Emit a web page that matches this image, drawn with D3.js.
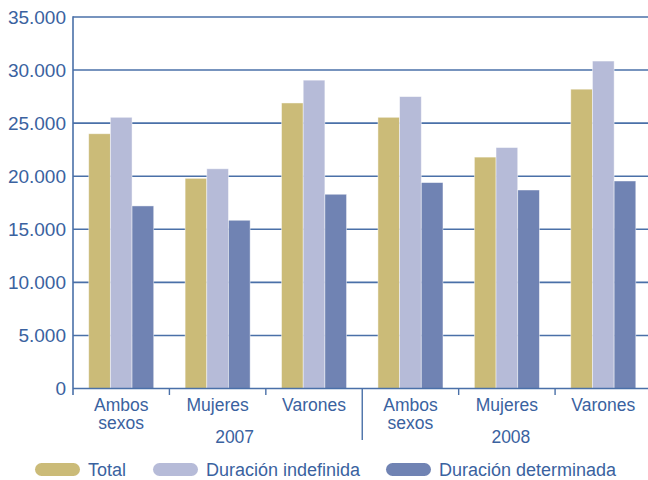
<!DOCTYPE html>
<html>
<head>
<meta charset="utf-8">
<script src="https://cdn.jsdelivr.net/npm/d3@7"></script>
<style>
  html, body { margin: 0; padding: 0; background: #fff; }
  svg { display: block; font-family: "Liberation Sans", Arial, Helvetica, sans-serif; }
</style>
</head>
<body>
<svg id="chart" width="648" height="480"></svg>
<script>
// Contract counts by year and sex
const years = ["2007", "2008"];
const sexes = ["Ambos sexos", "Mujeres", "Varones"];
const seriesNames = ["Total", "Duración indefinida", "Duración determinada"];
const totalValues       = [24000, 19800, 26900, 25550, 21800, 28200];
const indefinidaValues  = [25550, 20700, 29050, 27500, 22700, 30850];
const determinadaValues = [17200, 15850, 18300, 19400, 18700, 19550];
const yTicks = [0, 5000, 10000, 15000, 20000, 25000, 30000, 35000];

const colors = ["#cbbb78", "#b6bbd8", "#7083b3"];
const ink = "#3a62a0";
const lineColor = "#4a70a8";

// Build the rows: one per year/sex combination
const rows = [];
years.forEach((yr, yi) => {
  sexes.forEach((sx, si) => {
    const i = yi * sexes.length + si;
    rows.push({
      key: yr + "|" + sx, year: yr, sex: sx,
      values: [totalValues[i], indefinidaValues[i], determinadaValues[i]]
    });
  });
});

const svg = d3.select("#chart");
const plotLeft = 73, plotRight = 651.5, plotTop = 17, plotBottom = 388.5;

const y = d3.scaleLinear().domain([0, 35000]).range([plotBottom, plotTop]);
const x0 = d3.scaleBand().domain(rows.map(r => r.key)).range([plotLeft, plotRight]);
const groupPad = 15.7;
const x1 = d3.scaleBand().domain(seriesNames)
  .range([groupPad, x0.bandwidth() - groupPad]);

const locale = d3.formatLocale({ decimal: ",", thousands: ".", grouping: [3], currency: ["", " €"] });
const fmt = locale.format(",");

// Horizontal gridlines
svg.append("g")
  .selectAll("line")
  .data(yTicks.filter(v => v > 0))
  .join("line")
  .attr("x1", plotLeft).attr("x2", plotRight)
  .attr("y1", d => y(d)).attr("y2", d => y(d))
  .attr("stroke", lineColor).attr("stroke-width", 1.6);

// Bars
const groups = svg.append("g")
  .selectAll("g")
  .data(rows)
  .join("g")
  .attr("transform", d => `translate(${x0(d.key)},0)`);

groups.selectAll("rect")
  .data(d => d.values.map((v, k) => ({ name: seriesNames[k], value: v, k })))
  .join("rect")
  .attr("x", d => x1(d.name))
  .attr("width", x1.bandwidth())
  .attr("y", d => y(d.value))
  .attr("height", d => y(0) - y(d.value))
  .attr("fill", d => colors[d.k])
  .attr("stroke", "#ffffff")
  .attr("stroke-opacity", 0.55)
  .attr("stroke-width", 0.8);

// Y axis
const yAxis = d3.axisLeft(y).tickValues(yTicks).tickFormat(fmt).tickSize(0).tickPadding(7);
const gy = svg.append("g").attr("transform", `translate(${plotLeft},0)`).call(yAxis);
gy.select(".domain").remove();
gy.selectAll("text")
  .attr("fill", ink)
  .attr("font-size", 19)
  .attr("font-family", "Liberation Sans, Arial, sans-serif");
svg.append("line")
  .attr("x1", plotLeft).attr("x2", plotLeft)
  .attr("y1", plotTop - 0.8).attr("y2", plotBottom + 6.5)
  .attr("stroke", lineColor).attr("stroke-width", 1.6);

// X axis baseline
svg.append("line")
  .attr("x1", plotLeft).attr("x2", plotRight)
  .attr("y1", plotBottom).attr("y2", plotBottom)
  .attr("stroke", lineColor).attr("stroke-width", 1.6);

// Category separators; the year boundary runs longer
const boundaries = rows.slice(1).map(r => r.key);
svg.append("g")
  .selectAll("line")
  .data(boundaries)
  .join("line")
  .attr("x1", d => x0(d)).attr("x2", d => x0(d))
  .attr("y1", plotBottom)
  .attr("y2", d => d === years[1] + "|" + sexes[0] ? 440 : 395)
  .attr("stroke", lineColor).attr("stroke-width", 1.4);

// Category labels, one text element per line
const catLines = { "Ambos sexos": ["Ambos", "sexos"], "Mujeres": ["Mujeres"], "Varones": ["Varones"] };
const lineItems = [];
rows.forEach(r => {
  catLines[r.sex].forEach((t, li) => {
    lineItems.push({ t, li, cx: x0(r.key) + x0.bandwidth() / 2 });
  });
});
svg.append("g")
  .selectAll("text")
  .data(lineItems)
  .join("text")
  .attr("x", d => d.cx)
  .attr("y", d => 411 + d.li * 17.5)
  .attr("text-anchor", "middle")
  .attr("fill", ink)
  .attr("font-size", 17.5)
  .text(d => d.t);

// Year labels under each group
const yearShift = [17, 4];
svg.append("g")
  .selectAll("text")
  .data(years)
  .join("text")
  .attr("x", (d, i) => x0(d + "|" + sexes[1]) + x0.bandwidth() / 2 + yearShift[i])
  .attr("y", 443)
  .attr("text-anchor", "middle")
  .attr("fill", ink)
  .attr("font-size", 17.5)
  .text(d => d);

// Legend
const legendX = [35, 153, 386];
const leg = svg.append("g")
  .selectAll("g")
  .data(seriesNames)
  .join("g")
  .attr("transform", (d, i) => `translate(${legendX[i]},463)`);
leg.append("rect")
  .attr("width", 45).attr("height", 13)
  .attr("rx", 6.5).attr("ry", 6.5)
  .attr("fill", (d, i) => colors[i]);
leg.append("text")
  .attr("x", 53).attr("y", 13)
  .attr("fill", ink)
  .attr("font-size", 18)
  .text(d => d);
</script>
</body>
</html>
